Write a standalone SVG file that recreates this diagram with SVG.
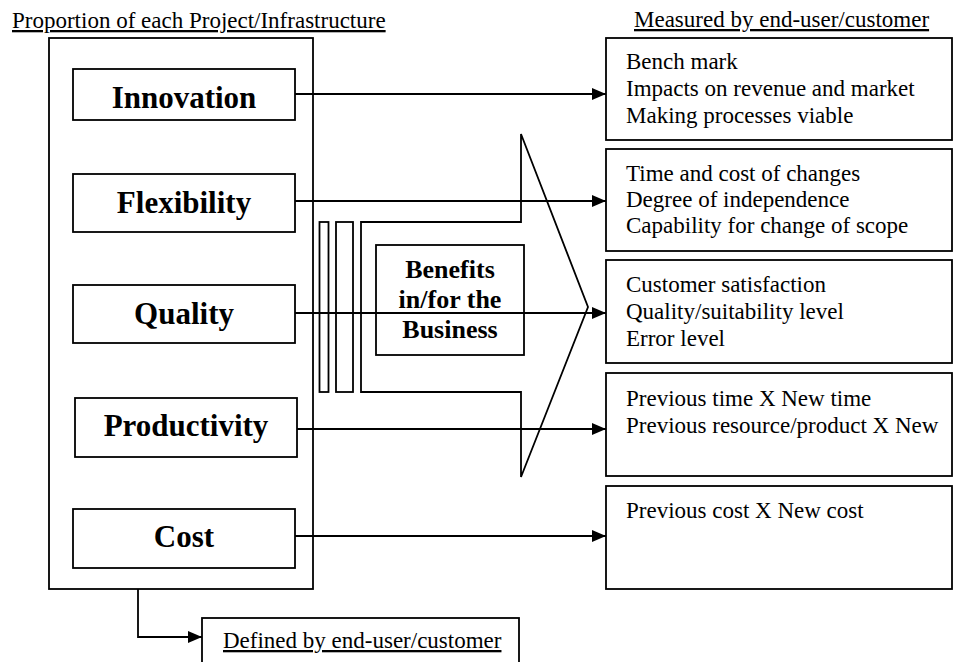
<svg xmlns="http://www.w3.org/2000/svg" width="955" height="662" viewBox="0 0 955 662">
<style>
.box{fill:#fff;stroke:#000;stroke-width:1.8}
.ln{fill:none;stroke:#000;stroke-width:1.8}
.t{font-family:"Liberation Serif","Times New Roman",serif;font-size:23px;fill:#000}
.b{font-family:"Liberation Serif","Times New Roman",serif;font-size:31px;font-weight:bold;fill:#000;text-anchor:middle}
.bb{font-family:"Liberation Serif","Times New Roman",serif;font-size:26px;font-weight:bold;fill:#000;text-anchor:middle}
.u{text-decoration:underline}
</style>
<defs>
<marker id="ah" viewBox="0 0 14 12" refX="14" refY="6" markerWidth="14" markerHeight="12" markerUnits="userSpaceOnUse" orient="auto">
<path d="M0,0 L14,6 L0,12 Z" fill="#000"/>
</marker>
</defs>
<rect width="955" height="662" fill="#fff"/>
<text class="t u" x="12" y="28">Proportion of each Project/Infrastructure</text>
<text class="t u" x="634" y="27">Measured by end-user/customer</text>
<g id="outer"><rect class="box" x="49" y="38" width="264" height="551"/></g>
<g id="innovation"><rect class="box" x="73" y="69" width="222" height="51"/><text class="b" x="184" y="108">Innovation</text></g>
<g id="flexibility"><rect class="box" x="73" y="174" width="222" height="58"/><text class="b" x="184" y="213">Flexibility</text></g>
<g id="quality"><rect class="box" x="73" y="285" width="222" height="58"/><text class="b" x="184" y="324">Quality</text></g>
<g id="productivity"><rect class="box" x="75" y="398" width="222" height="59"/><text class="b" x="186" y="436">Productivity</text></g>
<g id="cost"><rect class="box" x="73" y="509" width="222" height="59"/><text class="b" x="184" y="547">Cost</text></g>
<g id="benefits-arrow">
<rect class="box" x="319.5" y="222" width="9" height="170"/>
<rect class="box" x="336" y="222" width="17" height="170"/>
<path class="box" d="M361,222 L521,222 L521,134 L588,307 L521,477 L521,392 L361,392 Z"/>
<rect class="box" x="376" y="245" width="148" height="110"/>
<text class="bb" x="450" y="278">Benefits</text>
<text class="bb" x="450" y="308">in/for the</text>
<text class="bb" x="450" y="338">Business</text>
</g>
<g id="m-innovation"><rect class="box" x="606" y="38" width="346" height="102"/>
<text class="t" x="626" y="69">Bench mark</text><text class="t" x="626" y="96">Impacts on revenue and market</text><text class="t" x="626" y="123">Making processes viable</text></g>
<g id="m-flexibility"><rect class="box" x="606" y="149" width="346" height="102"/>
<text class="t" x="626" y="181">Time and cost of changes</text><text class="t" x="626" y="207">Degree of independence</text><text class="t" x="626" y="233">Capability for change of scope</text></g>
<g id="m-quality"><rect class="box" x="606" y="260" width="346" height="103"/>
<text class="t" x="626" y="292">Customer satisfaction</text><text class="t" x="626" y="319">Quality/suitability level</text><text class="t" x="626" y="346">Error level</text></g>
<g id="m-productivity"><rect class="box" x="606" y="373" width="346" height="103"/>
<text class="t" x="626" y="406">Previous time X New time</text><text class="t" x="626" y="433">Previous resource/product X New</text></g>
<g id="m-cost"><rect class="box" x="606" y="486" width="346" height="103"/>
<text class="t" x="626" y="518">Previous cost X New cost</text></g>
<g id="defined"><rect class="box" x="202" y="618" width="317" height="60"/>
<text class="t u" x="223" y="648">Defined by end-user/customer</text></g>
<g id="connectors">
<line class="ln" x1="295" y1="94" x2="606" y2="94" marker-end="url(#ah)"/>
<line class="ln" x1="295" y1="201" x2="606" y2="201" marker-end="url(#ah)"/>
<line class="ln" x1="295" y1="313" x2="606" y2="313" marker-end="url(#ah)"/>
<line class="ln" x1="297" y1="429" x2="606" y2="429" marker-end="url(#ah)"/>
<line class="ln" x1="295" y1="536" x2="606" y2="536" marker-end="url(#ah)"/>
<path class="ln" d="M138,589 L138,637 L202,637" marker-end="url(#ah)"/>
</g>
</svg>
